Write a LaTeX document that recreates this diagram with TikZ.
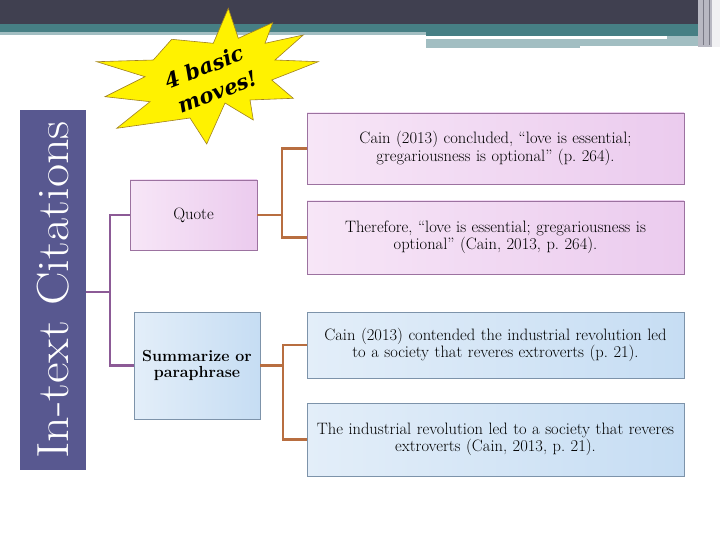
\documentclass[tikz,border=0pt]{standalone}
\usepackage{fontspec}
\usepackage{xcolor}
\usepackage{tikz}
\usetikzlibrary{calc}
\newfontfamily\burstfont{DejaVu Serif}
\definecolor{slidedark}{RGB}{64, 64, 80}
\definecolor{slideteal}{RGB}{70, 127, 132}
\definecolor{slidelight}{RGB}{162, 190, 194}
\definecolor{slideedge}{RGB}{184, 184, 194}
\definecolor{titleband}{RGB}{88, 88, 144}
\definecolor{pinkleft}{RGB}{247, 230, 247}
\definecolor{pinkright}{RGB}{235, 203, 238}
\definecolor{pinkline}{RGB}{156, 114, 160}
\definecolor{blueleft}{RGB}{227, 238, 249}
\definecolor{blueright}{RGB}{198, 221, 243}
\definecolor{blueline}{RGB}{125, 147, 170}
\definecolor{linkpurple}{RGB}{140, 90, 150}
\definecolor{linkorange}{RGB}{184, 110, 64}
\definecolor{burstfill}{RGB}{255, 242, 0}
\definecolor{burstline}{RGB}{160, 128, 32}

\begin{document}
\begin{tikzpicture}[
  x=1pt, y=-1pt,
  every node/.style={font=\fontsize{16.5}{17.5}\selectfont, inner sep=3pt},
  pinkbox/.style={draw=pinkline, line width=0.8pt, left color=pinkleft, right color=pinkright, align=center},
  bluebox/.style={draw=blueline, line width=0.8pt, left color=blueleft, right color=blueright, align=center},
  citebox/.style={text width=371pt, minimum height=#1},
  mainlink/.style={draw=linkpurple, line width=2.6pt},
  sublink/.style={draw=linkorange, line width=2.6pt},
  burst/.style={fill=burstfill, draw=burstline, line width=0.6pt},
  bursttext/.style={font=\fontsize{21}{28}\selectfont\burstfont\bfseries\itshape, align=center, inner sep=0pt}
]
  \useasboundingbox (0,0) rectangle (720,540);

  \fill[slidedark] (0,0) rectangle (700,24);
  \fill[slideteal] (0,24) rectangle (700,32);
  \fill[slidelight] (0,32) rectangle (426,35);
  \fill[slideteal] (426,32) rectangle (700,36);
  \fill[slidelight] (426,39) rectangle (580,48);
  \fill[slidelight] (580,39) rectangle (667,46);
  \fill[slidelight] (667,36) rectangle (700,46);
  \fill[slideedge] (698,0) rectangle (720,47);
  \fill[white!80!slideedge] (712,0) rectangle (720,47);
  \draw[slidedark!70, line width=0.8pt] (703,0) -- (703,45) (709,0) -- (709,45);

  \node[fill=titleband, text=white, rotate=90, minimum width=360pt, minimum height=66pt,
        font=\fontsize{45}{45}\selectfont] (title) at (53,290) {\scalebox{1.12}[1]{In-text Citations}};

  \draw[burst] (228.3,8.3) -- (238.3,38.3) -- (272.7,22.7) -- (265,43.3) -- (303.3,35)
    -- (275,60) -- (318.3,61.7) -- (271.7,80) -- (293.3,98.3) -- (250,100)
    -- (253.3,120) -- (225,103) -- (206.7,144) -- (190,118) -- (116.7,128.3)
    -- (150,101.7) -- (105,96.7) -- (145,76.7) -- (96.7,61.7) -- (153.3,60)
    -- (171.7,39.3) -- (213.3,43.3) -- cycle;
  \node[bursttext, rotate=21] (moves) at (209,80) {4 basic\\\hspace*{8pt}moves!};

  \node[pinkbox, minimum width=127pt, minimum height=70pt, font=\fontsize{16.5}{17.5}\selectfont\addfontfeature{LetterSpace=6}] (quote) at (193.5,215) {Quote};
  \node[bluebox, minimum width=126pt, minimum height=107pt, font=\fontsize{16}{16.5}\selectfont\bfseries\addfontfeature{LetterSpace=4}] (summ) at (197,365.5) {Summarize or\\paraphrase};

  \node[pinkbox, citebox=71pt] (q1) at (495.5,148.5) {Cain (2013) concluded, ``love is essential;\\gregariousness is optional'' (p.~264).};
  \node[pinkbox, citebox=73pt] (q2) at (495.5,237.5) {Therefore, ``love is essential; gregariousness is\\optional'' (Cain, 2013, p.~264).};
  \node[bluebox, citebox=66pt] (s1) at (495.5,345) {Cain (2013) contended the industrial revolution led\\to a society that reveres extroverts (p.~21).};
  \node[bluebox, citebox=73pt] (s2) at (495.5,439.5) {The industrial revolution led to a society that reveres\\extroverts (Cain, 2013, p.~21).};

  \coordinate (mj) at (110,292);
  \coordinate (qj) at (282,215);
  \coordinate (sj) at (283,365.5);

  \draw[mainlink] (title.south |- mj) -- (mj);
  \draw[mainlink] (quote.west) -| (mj) |- (summ.west);
  \draw[sublink] (quote.east) -- (qj);
  \draw[sublink] (q1.west) -| (qj) |- (q2.west);
  \draw[sublink] (summ.east) -- (sj);
  \draw[sublink] (s1.west) -| (sj) |- (s2.west);

\end{tikzpicture}
\end{document}
